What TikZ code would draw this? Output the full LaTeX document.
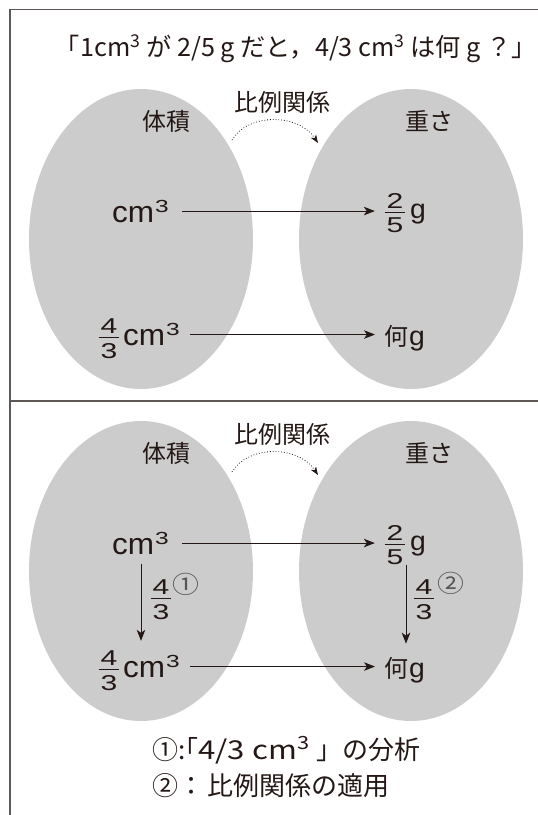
\documentclass[tikz,border=0pt]{standalone}
\usepackage{fontspec}
\usetikzlibrary{arrows.meta}
\setmainfont{Noto Sans CJK JP}
\newfontfamily\jpfont{Noto Sans CJK JP}
\newfontfamily\jplat[FakeStretch=1.2]{Noto Sans CJK JP}
\newfontfamily\latfont[FakeStretch=1.05]{Liberation Sans}
\newfontfamily\digfont[FakeStretch=1.4]{Liberation Sans}
\newfontfamily\circfont[FakeStretch=1.12]{Noto Sans CJK JP}
\definecolor{ink}{HTML}{231815}
\definecolor{framegray}{HTML}{5F5656}
\definecolor{blobgray}{HTML}{CCCCCC}
\definecolor{circgray}{HTML}{555555}

% a stacked fraction: numerator, rule, denominator
\newcommand\stackfrac[2]{\vbox{\offinterlineskip\digfont\fontsize{21.5}{21.5}\selectfont
  \halign{\hfil\kern2pt##\kern2pt\hfil\cr #1\cr
  \noalign{\kern3.5pt\hrule height 0.9pt\kern5.5pt}#2\cr}}}
% cubic centimetres
\newcommand\cmcube{{\latfont\fontsize{30}{30}\selectfont cm}\kern1pt\raisebox{10pt}{\digfont\fontsize{17.5}{17.5}\selectfont 3}}
% grams
\newcommand\gram{{\latfont\fontsize{27}{27}\selectfont g}}

\tikzset{
  frameline/.style={draw=framegray, line width=1.6pt},
  blob/.style={fill=blobgray, draw=none},
  lbl/.style={inner sep=0pt, text=ink},
  jp/.style={lbl, font=\jpfont\fontsize{24}{24}\selectfont},
  arr/.style={draw=ink, line width=0.9pt, -{Stealth[length=11pt,width=8.5pt,inset=3pt]}},
  dotarr/.style={draw=ink, line width=0.8pt, dotted, -{Stealth[length=8pt,width=6pt,inset=2pt]}},
  circnum/.style={inner sep=0pt, text=circgray, font=\circfont\fontsize{24}{24}\selectfont},
  legend/.style={lbl, anchor=base west, font=\jpfont\fontsize{26}{26}\selectfont},
}

\begin{document}
\begin{tikzpicture}[x=1pt,y=-1pt]
\useasboundingbox (0,0) rectangle (538,815);

% frame
\draw[frameline] (538,9.5) -- (10,9.5) -- (10,815);
\draw[frameline] (10,401) -- (538,401);

% question
\node[jp, font=\jpfont\fontsize{25.2}{25.2}\selectfont, anchor=base] (title) at (296,56.5)
  {「1cm\textsuperscript{3} が 2/5 g だと，4/3 cm\textsuperscript{3} は何 g ？」};

% the two panels share the same volume / weight correspondence
\foreach \p/\dy in {a/0,b/332}{
  \begin{scope}[shift={(0,\dy)}]
    \fill[blob] (141,239) ellipse [x radius=112pt, y radius=150pt];
    \fill[blob] (411,239) ellipse [x radius=112pt, y radius=150pt];

    \node[jp] (rel\p) at (282,102.5) {比例関係};
    \node[jp] (vol\p) at (166,121) {体積};
    \node[jp] (wt\p) at (429,121) {重さ};

    \coordinate (as\p) at (232,140);
    \coordinate (ae\p) at (318,143);
    \draw[dotarr] (as\p) .. controls (248,113) and (298,113) .. (ae\p);

    % first row: one cubic centimetre weighs 2/5 g
    \node[lbl, anchor=base west] (c1\p) at (112,222) {\cmcube};
    \node[lbl] (f1\p) at (395,213) {\stackfrac{2}{5}};
    \node[lbl, anchor=base west] (g1\p) at (410,218) {\gram};
    \draw[arr, shorten <=13pt, shorten >=9.6pt] (c1\p.east) -- (c1\p.east -| f1\p.west);

    % second row: 4/3 cubic centimetres weigh ? g
    \node[lbl] (f2\p) at (109,339) {\stackfrac{4}{3}};
    \node[lbl, anchor=base west] (c2\p) at (123,345.5) {\cmcube};
    \node[lbl, anchor=base west] (q2\p) at (384,345)
      {{\jpfont\fontsize{24}{24}\selectfont 何}\kern1pt\gram};
    \draw[arr, shorten <=10pt, shorten >=9pt] (c2\p.east) -- (c2\p.east -| q2\p.west);
  \end{scope}
}

% vertical steps in the lower panel
\coordinate (vlx) at (141,0);
\coordinate (vrx) at (406,0);
\draw[arr, shorten <=9pt, shorten >=10pt] (c1b.south -| vlx) -- (f2b.north -| vlx);
\draw[arr, shorten >=13pt] (f1b.south -| vrx) -- (q2b.north -| vrx);
\node[lbl] (k1) at (161,600) {\stackfrac{4}{3}};
\node[lbl] (k2) at (424,600) {\stackfrac{4}{3}};
\node[circnum] (n1) at (186,584) {①};
\node[circnum] (n2) at (451,583) {②};

% legend
\node[legend] (cap1) at (152,759)
  {①:{\addfontfeature{RawFeature=+palt}「}{\jplat\fontsize{26}{26}\selectfont 4/3 cm\textsuperscript{3} }」の分析};
\node[legend] (cap2) at (152,795)
  {②：\kern3pt 比例関係の適用};
\end{tikzpicture}
\end{document}
